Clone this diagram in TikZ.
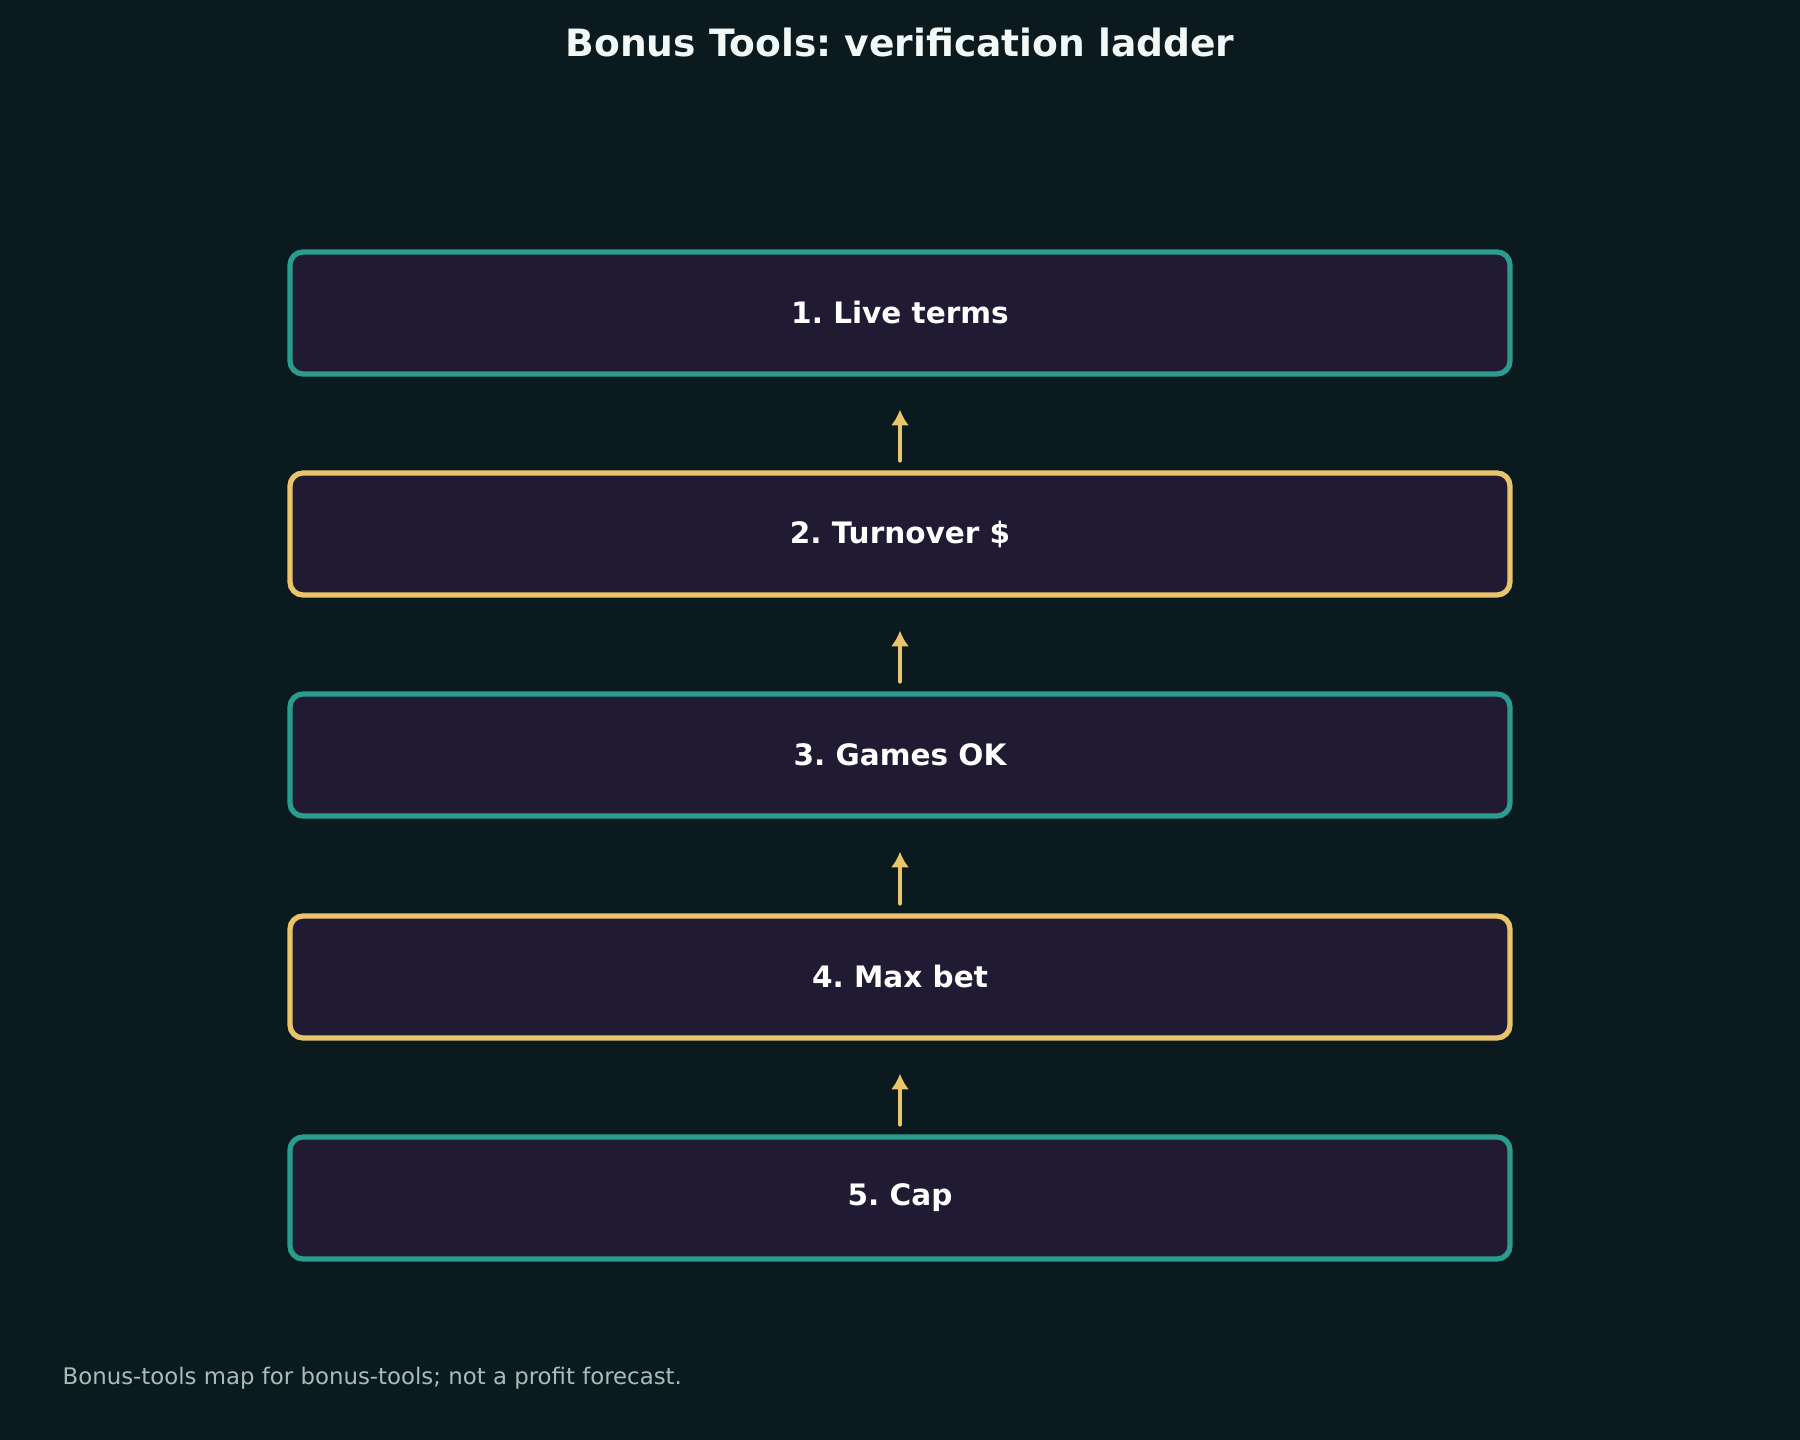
\documentclass[tikz,border=0pt]{standalone}
\usepackage{fontspec}
\setmainfont{DejaVu Sans}
\usetikzlibrary{arrows.meta, positioning}
\frenchspacing

\definecolor{bgdark}{HTML}{0B1A1F}
\definecolor{boxfill}{HTML}{211A33}
\definecolor{tealline}{HTML}{2A9D8F}
\definecolor{goldline}{HTML}{E9C46A}
\definecolor{titletext}{HTML}{F1F8F6}
\definecolor{notetext}{HTML}{A9BCB9}

\begin{document}
\begin{tikzpicture}
    % Setup the styles for the steps
    \tikzset{rung/.style={draw,
                          rounded corners=0.13cm,
                          minimum width=12.2cm,
                          minimum height=1.22cm,
                          line width=1.5pt,
                          fill=boxfill,
                          text=white,
                          font=\fontsize{8.4}{10}\selectfont\bfseries},
             teal rung/.style={rung, draw=tealline},
             gold rung/.style={rung, draw=goldline},
             climb/.style={goldline, line width=1.3pt, line cap=round,
                           -{Latex[length=4.5pt,width=5.2pt]},
                           shorten <=0.1cm, shorten >=0.33cm}}

    % Background and page size
    \fill[bgdark] (0, 0) rectangle (18, 14.4);
    \useasboundingbox (0, 0) rectangle (18, 14.4);

    % Title and footnote
    \node[text=titletext, font=\fontsize{10.7}{13}\selectfont\bfseries]
        at (9, 13.98) (title) {Bonus Tools: verification ladder};
    \node[text=notetext, font=\fontsize{6.5}{8}\selectfont, anchor=west, inner sep=0pt]
        at (0.62, 0.62) (note) {Bonus-tools map for bonus-tools; not a profit forecast.};

    % Draw the steps
    \node[teal rung] at (9, 11.27) (live)     {1. Live terms};
    \node[gold rung] at (9, 9.06)  (turnover) {2. Turnover \$};
    \node[teal rung] at (9, 6.85)  (games)    {3. Games OK};
    \node[gold rung] at (9, 4.63)  (maxbet)   {4. Max bet};
    \node[teal rung] at (9, 2.42)  (cap)      {5. Cap};

    % Connect the steps with arrows
    \draw[climb] (turnover.north) -- (live.south);
    \draw[climb] (games.north)    -- (turnover.south);
    \draw[climb] (maxbet.north)   -- (games.south);
    \draw[climb] (cap.north)      -- (maxbet.south);
\end{tikzpicture}
\end{document}
